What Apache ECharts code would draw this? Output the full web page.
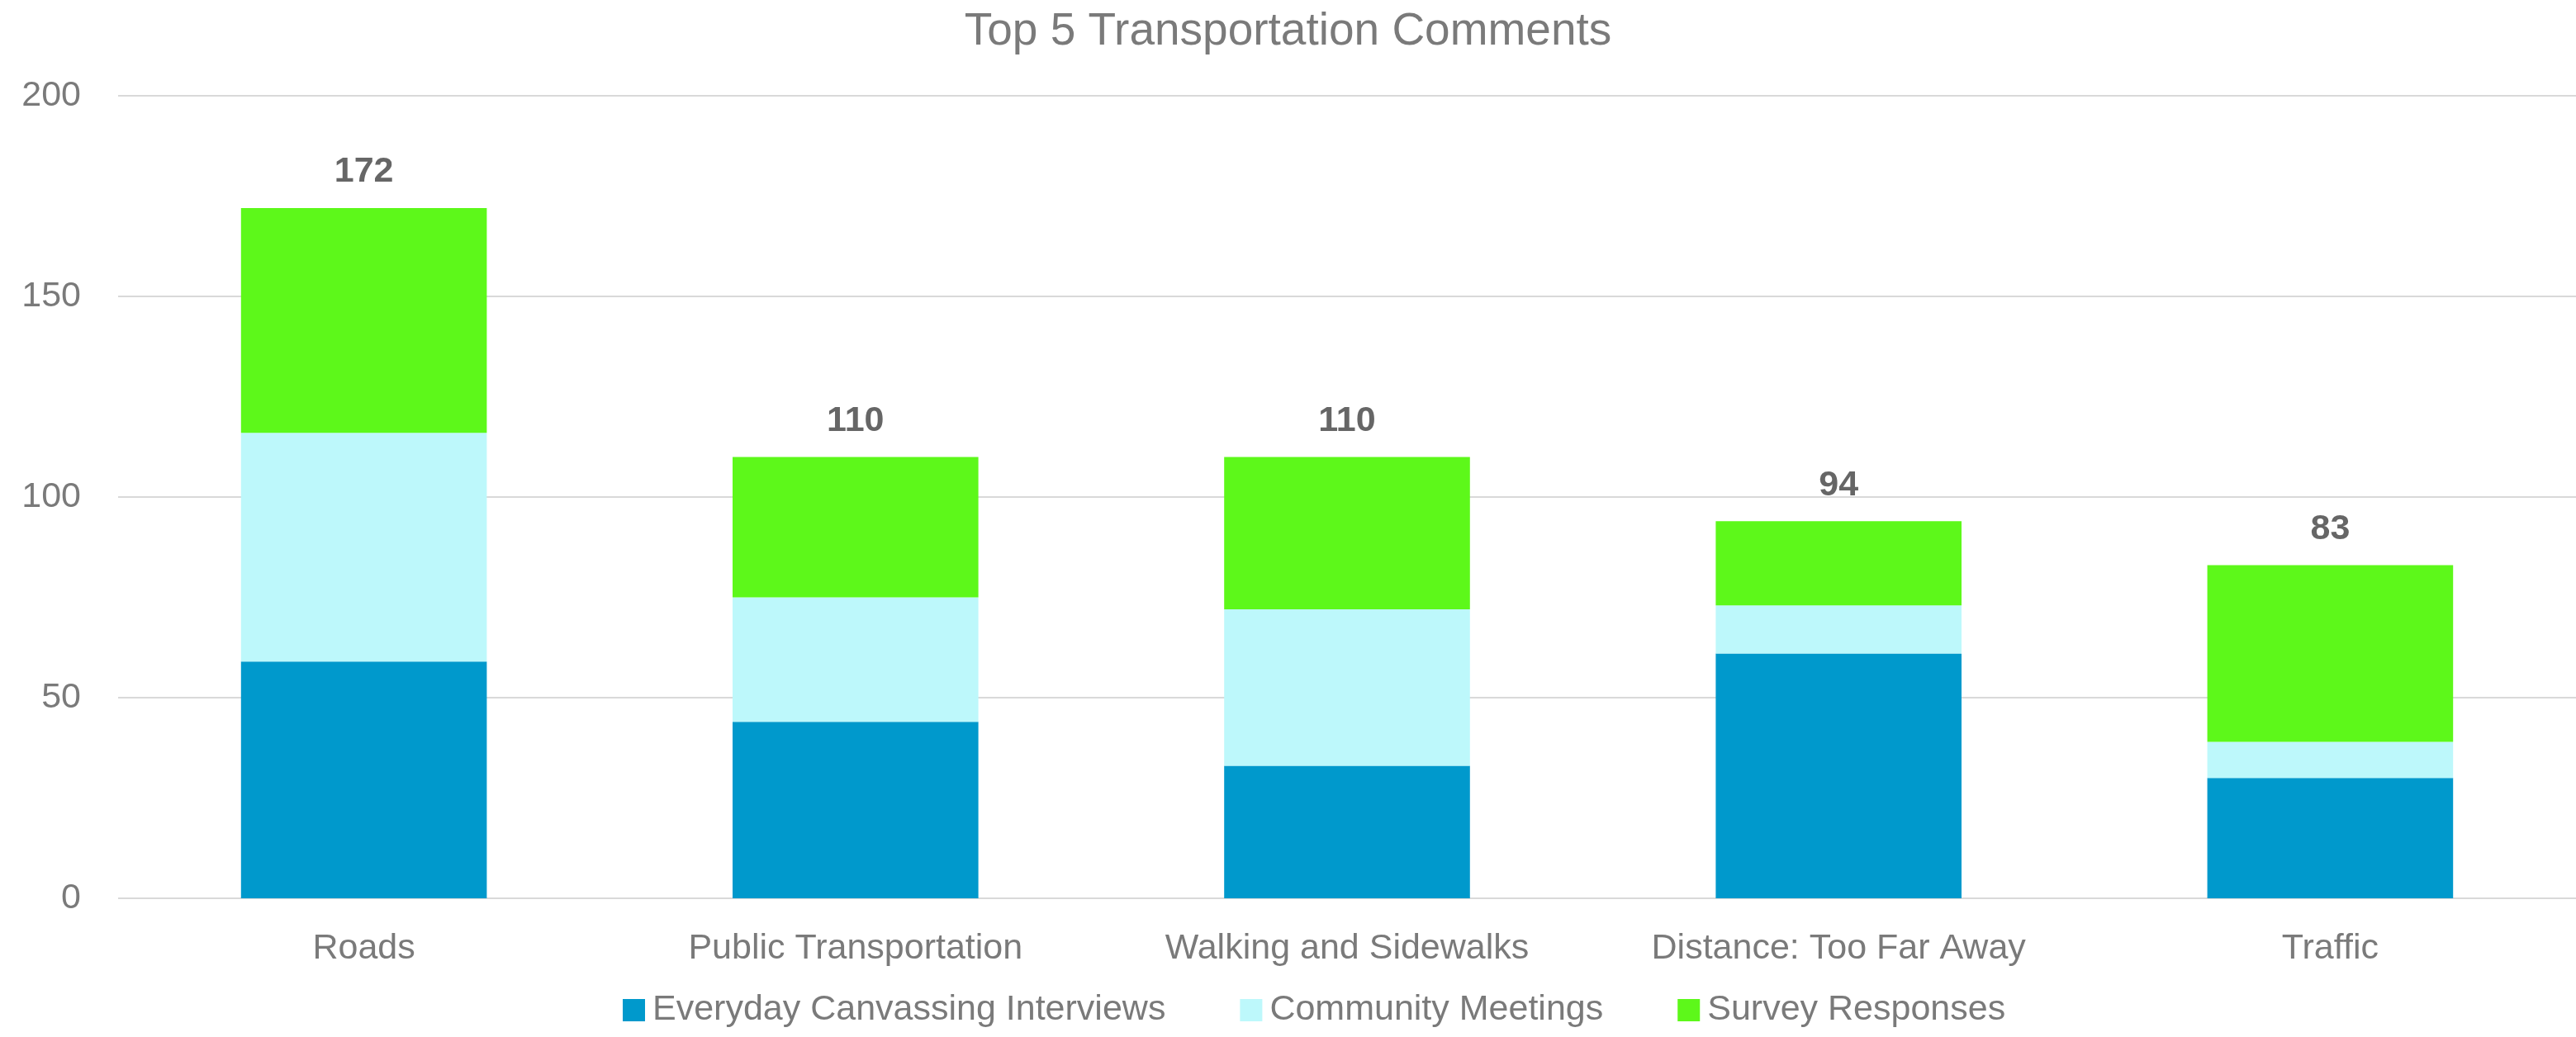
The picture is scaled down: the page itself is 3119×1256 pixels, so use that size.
<!DOCTYPE html>
<html>
<head>
<meta charset="utf-8">
<script src="https://cdn.jsdelivr.net/npm/echarts@6/dist/echarts.min.js"></script>
<style>
html,body{margin:0;padding:0;background:#fff;}
#chart{width:3119px;height:1256px;}
</style>
</head>
<body>
<div id="chart"></div>
<script>
const categories = ["Roads", "Public Transportation", "Walking and Sidewalks", "Distance: Too Far Away", "Traffic"];
const canvassing = [59, 44, 33, 61, 30];
const meetings = [57, 31, 39, 12, 9];
const survey = [56, 35, 38, 21, 44];
const seriesNames = ["Everyday Canvassing Interviews", "Community Meetings", "Survey Responses"];
const yTicks = [0, 50, 100, 150, 200];

const totals = categories.map((c, i) => canvassing[i] + meetings[i] + survey[i]);
const font = "Liberation Sans";
const colors = ["#0099CC", "#BDF8FB", "#5DF81A"];

const chart = echarts.init(document.getElementById('chart'), null, {renderer: 'canvas'});
chart.setOption({
  animation: false,
  backgroundColor: '#ffffff',
  title: {
    text: 'Top 5 Transportation Comments',
    left: 'center',
    top: 6,
    textStyle: {fontFamily: font, fontSize: 55, fontWeight: 'normal', color: '#7a7a7a'}
  },
  legend: {
    bottom: 6,
    left: 749,
    itemWidth: 27,
    itemHeight: 27,
    itemGap: 90,
    icon: 'rect',
    textStyle: {fontFamily: font, fontSize: 43, color: '#7a7a7a', padding: [0, 0, 0, 4]},
    data: seriesNames
  },
  grid: {left: 143, right: -8, top: 116, bottom: 168, containLabel: false},
  xAxis: {
    type: 'category',
    data: categories,
    axisLine: {show: false},
    axisTick: {show: false},
    axisLabel: {fontFamily: font, fontSize: 43, color: '#7a7a7a', margin: 40}
  },
  yAxis: {
    type: 'value',
    min: yTicks[0],
    max: yTicks[yTicks.length - 1],
    interval: 50,
    axisLine: {show: false},
    axisTick: {show: false},
    axisLabel: {fontFamily: font, fontSize: 43, color: '#7a7a7a', margin: 45},
    splitLine: {lineStyle: {color: '#d9d9d9', width: 2}}
  },
  series: [
    {name: seriesNames[0], type: 'bar', stack: 'total', barWidth: '50%', data: canvassing, itemStyle: {color: colors[0]}},
    {name: seriesNames[1], type: 'bar', stack: 'total', data: meetings, itemStyle: {color: colors[1]}},
    {name: seriesNames[2], type: 'bar', stack: 'total', data: survey, itemStyle: {color: colors[2]},
      label: {
        show: true, position: 'top', distance: 22,
        fontFamily: font, fontSize: 43, fontWeight: 'bold', color: '#666666',
        formatter: p => totals[p.dataIndex]
      }
    }
  ]
});
</script>
</body>
</html>
